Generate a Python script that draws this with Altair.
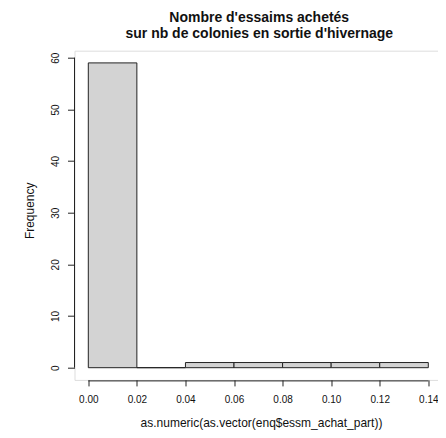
import altair as alt
import pandas as pd

# Histogram data
bin_start = [0.00, 0.02, 0.04, 0.06, 0.08, 0.10, 0.12]
bin_end = [0.02, 0.04, 0.06, 0.08, 0.10, 0.12, 0.14]
counts = [59, 0, 1, 1, 1, 1, 1]

x_ticks = [0.00, 0.02, 0.04, 0.06, 0.08, 0.10, 0.12, 0.14]
y_ticks = [0, 10, 20, 30, 40, 50, 60]

title_lines = ["Nombre d'essaims achetés", "sur nb de colonies en sortie d'hivernage"]
x_title = "as.numeric(as.vector(enq$essm_achat_part))"
y_title = "Frequency"

df = pd.DataFrame({"start": bin_start, "end": bin_end, "count": counts})

FONT = "Liberation Sans"
W = 363.5
H = 329.2

x_dom = [-0.00568, 0.14399]
y_dom = [-2.36, 61.36]

xs = alt.Scale(domain=x_dom, nice=False, zero=False)
ys = alt.Scale(domain=y_dom, nice=False, zero=False)

bars = alt.Chart(df).mark_rect(
    fill="#D3D3D3", stroke="#222222", strokeWidth=1
).encode(
    x=alt.X("start:Q", scale=xs, axis=alt.Axis(
        values=x_ticks, format=".2f", domain=False, grid=False,
        tickSize=6, tickColor="#222222", tickWidth=1,
        labelFont=FONT, labelFontSize=10, labelColor="#111111",
        labelPadding=9, labelAngle=0, labelAlign="center", labelBaseline="top",
        title=x_title, titleFont=FONT, titleFontSize=12, titleFontWeight="normal",
        titleColor="#111111", titleX=(0.0711 - x_dom[0]) / (x_dom[1] - x_dom[0]) * W,
        titleY=43, titleAlign="center",
        titleBaseline="middle", labelFlush=False, labelOverlap=False)),
    x2="end:Q",
    y=alt.Y("count:Q", scale=ys, axis=alt.Axis(
        values=y_ticks, domain=False, grid=False,
        tickSize=7, tickColor="#222222", tickWidth=1,
        labelFont=FONT, labelFontSize=10, labelColor="#111111",
        labelAngle=270, labelAlign="center", labelBaseline="alphabetic",
        labelPadding=9.5, labelFlush=False, labelOverlap=False,
        title=y_title, titleFont=FONT, titleFontSize=12, titleFontWeight="normal",
        titleColor="#111111", titleX=-45.5, titleY=H / 2 - 5, titleAngle=270,
        titleAlign="center", titleBaseline="middle")),
    y2=alt.datum(0),
)

axis_df = pd.DataFrame({"x0": [x_ticks[0]], "x1": [x_ticks[-1]],
                        "y0": [y_ticks[0]], "y1": [y_ticks[-1]]})

x_line = alt.Chart(axis_df).mark_rule(color="#222222", strokeWidth=1).encode(
    x=alt.X("x0:Q", scale=xs), x2="x1:Q", y=alt.value(H + 1)
)
y_line = alt.Chart(axis_df).mark_rule(color="#222222", strokeWidth=1).encode(
    y=alt.Y("y0:Q", scale=ys), y2="y1:Q", x=alt.value(0)
)

chart = alt.layer(bars, x_line, y_line).properties(
    width=W, height=H,
    title=alt.TitleParams(
        text=title_lines, font=FONT, fontSize=14, fontWeight="bold",
        color="#111111", anchor="middle", baseline="bottom",
        lineHeight=16, offset=-4.3, dx=3
    ),
    autosize=alt.AutoSizeParams(type="none"),
    padding={"left": 66.5, "top": 42.7, "right": 0, "bottom": 50},
).configure_view(stroke=None).configure(background="white")

chart.save("out.html", embed_options={"renderer": "svg", "actions": False})
